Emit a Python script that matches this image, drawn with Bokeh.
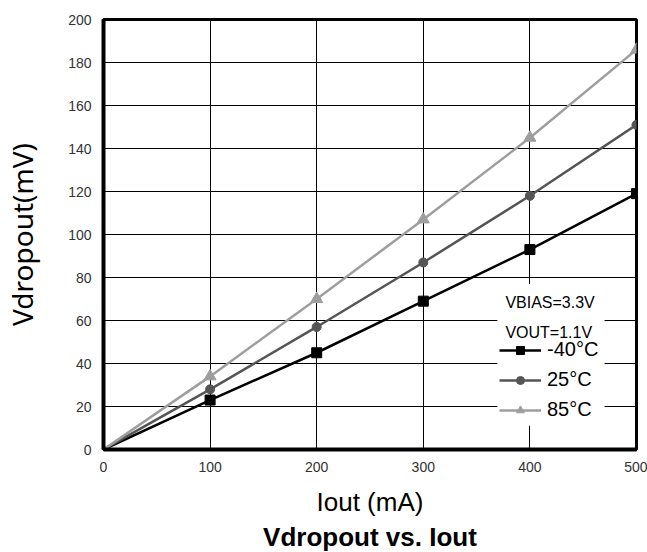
from bokeh.plotting import figure
from bokeh.models import Legend, LegendItem, Label, Title, FixedTicker, Range1d, BoxAnnotation
from bokeh.embed import file_html
from bokeh.resources import INLINE

iout = [0, 100, 200, 300, 400, 500]
v_m40 = [0, 23, 45, 69, 93, 119]
v_25 = [0, 28, 57, 87, 118, 151]
v_85 = [0, 34, 70, 107, 145, 186]
series_names = ["-40°C", "25°C", "85°C"]
x_ticks = [0, 100, 200, 300, 400, 500]
y_ticks = [0, 20, 40, 60, 80, 100, 120, 140, 160, 180, 200]
conditions = ["VBIAS=3.3V", "VOUT=1.1V"]
title_text = "Vdropout vs. Iout"

p = figure(width=647, height=552, output_backend="svg", toolbar_location=None,
           x_range=Range1d(0, 500), y_range=Range1d(0, 200),
           min_border_left=103, min_border_right=11, min_border_top=19, min_border_bottom=103)
p.background_fill_color = "white"
p.border_fill_color = "white"
p.outline_line_color = "black"
p.outline_line_width = 3

for ax in (p.xaxis[0], p.yaxis[0]):
    ax.axis_line_width = 4
    ax.axis_line_color = "black"
    ax.major_tick_line_color = None
    ax.minor_tick_line_color = None
    ax.major_label_text_font = "Liberation Sans"
    ax.major_label_text_font_size = "14px"
    ax.major_label_text_color = "#333333"
    ax.major_label_standoff = 6

p.xaxis.ticker = FixedTicker(ticks=x_ticks)
p.yaxis.ticker = FixedTicker(ticks=y_ticks)
p.grid.grid_line_color = "black"
p.grid.grid_line_width = 1
p.grid.grid_line_alpha = 1

p.xaxis.axis_label = "Iout (mA)"
p.xaxis.axis_label_text_font = "Liberation Sans"
p.xaxis.axis_label_text_font_size = "26px"
p.xaxis.axis_label_text_font_style = "normal"
p.xaxis.axis_label_text_color = "black"
p.xaxis.axis_label_standoff = 12

p.yaxis.axis_label = "Vdropout(mV)"
p.yaxis.axis_label_text_font = "Noto Sans"
p.yaxis.axis_label_text_font_size = "28px"
p.yaxis.axis_label_text_font_style = "normal"
p.yaxis.axis_label_text_color = "black"
p.yaxis.axis_label_standoff = 24

t = Title(text=title_text, align="center", text_font="Liberation Sans",
          text_font_size="26px", text_font_style="bold", text_color="black",
          standoff=0, text_line_height=0.9)
p.add_layout(t, "below")

colors = ["#000000", "#555555", "#9e9e9e"]
data = [v_m40, v_25, v_85]
items = []
for name, vals, c, m, sz in zip(series_names, data, colors,
                                ["square", "circle", "triangle"], [10, 9, 12]):
    l = p.line(iout, vals, line_color=c, line_width=2.5)
    s = p.scatter(iout[1:], vals[1:], marker=m, size=sz, fill_color=c, line_color=c)
    items.append(LegendItem(label=name, renderers=[l, s]))

p.add_layout(BoxAnnotation(left=369.5, right=470, bottom=11, top=77,
                           fill_color="white", fill_alpha=1, line_color=None))

leg = Legend(items=items, location=(396, 28), orientation="vertical",
             label_text_font="Liberation Sans", label_text_font_size="20px",
             label_text_color="black", glyph_width=42, glyph_height=20,
             label_height=20, spacing=7, padding=3, margin=0,
             background_fill_color="white", background_fill_alpha=0,
             border_line_color=None, label_standoff=6)
p.add_layout(leg, "center")

for txt, yv in zip(conditions, [68.4, 54.4]):
    p.add_layout(Label(x=377, y=yv, text=txt, text_font="Liberation Sans",
                       text_font_size="16px", text_color="black",
                       text_baseline="middle"))

open("out.html", "w").write(file_html(p, INLINE))
